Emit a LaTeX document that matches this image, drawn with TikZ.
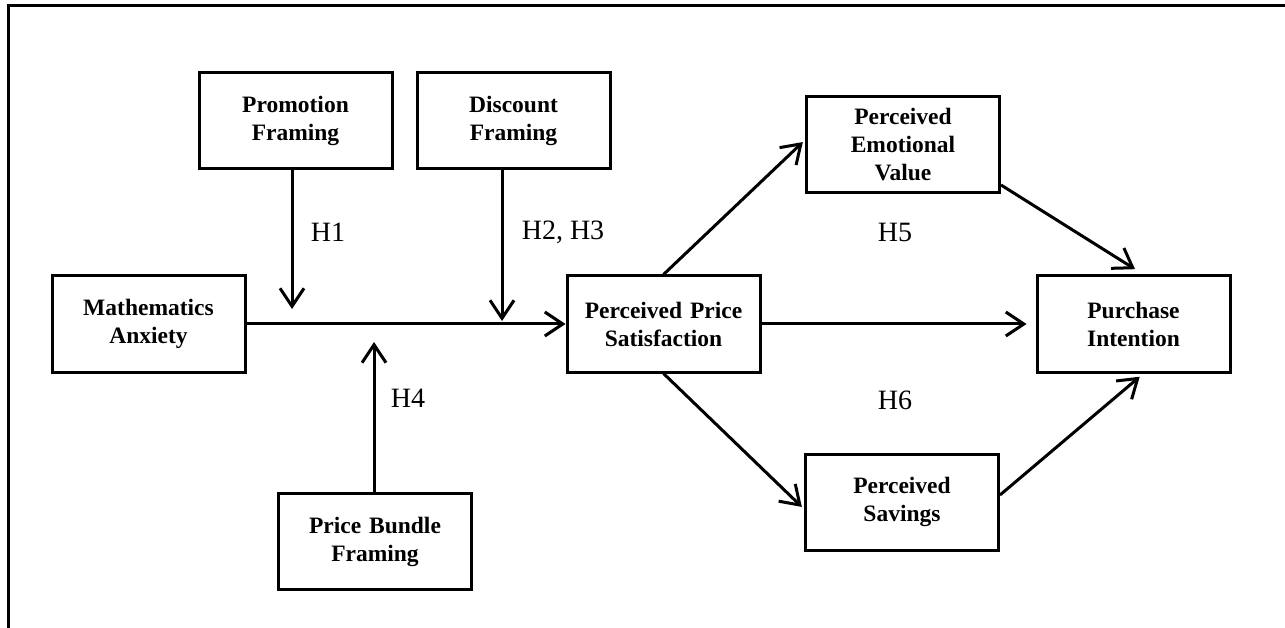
\documentclass[tikz,border=0pt]{standalone}
\usepackage{fontspec}
\setmainfont{Liberation Serif}
\usetikzlibrary{arrows.meta,calc}
\tikzset{
  box/.style={draw, line width=3pt, minimum width=193pt, minimum height=96pt, text width=185pt, align=center, inner sep=0pt,
    font=\fontsize{23.5}{28}\selectfont\bfseries},
  arr/.style={line width=3pt, -{Straight Barb[length=18pt,width=24pt,line width=3pt]}},
  lbl/.style={font=\fontsize{28}{32}\selectfont, inner sep=0pt},
  frame/.style={line width=3pt}
}
\begin{document}
\begin{tikzpicture}[x=1pt,y=-1pt]
\useasboundingbox (0,0) rectangle (1285,628);
\coordinate (fa) at (8,628);
\coordinate (fb) at (8,6);
\coordinate (fc) at (1285,6);
\draw[frame] (fa) -- (fb) -- (fc);

\node[box] (MA) at (148.5,324) {Mathematics\\Anxiety};
\node[box] (PF) at (295.5,120.5) {Promotion\\Framing};
\node[box] (DF) at (513.5,120.5) {Discount\\Framing};
\node[box] (PB) at (375,541.5) {Price Bundle\\Framing};
\node[box] (PPS) at (663.5,324) {Perceived Price\\Satisfaction};
\node[box] (PEV) at (903,145) {Perceived\\Emotional\\Value};
\node[box] (PS) at (902,502) {Perceived\\Savings};
\node[box] (PI) at (1133.5,324) {Purchase\\Intention};

\coordinate (t1) at (292,309);
\coordinate (t2) at (502,321);
\coordinate (t4) at (374,342);

\draw[arr] (MA.east) -- (PPS.west);
\draw[arr] (PF.south -| t1) -- (t1);
\draw[arr] (DF.south -| t2) -- (t2);
\draw[arr] (PB.north -| t4) -- (t4);

\draw[arr, shorten >=3pt] (PPS.north) -- ([yshift=5pt]PEV.west);
\draw[arr, shorten >=3pt] (PPS.south) -- ([yshift=-7pt]PS.west);
\draw[arr, shorten >=9pt] (PPS.east) -- (PI.west);
\draw[arr, shorten >=10pt] ([yshift=-40pt]PEV.east) -- ([xshift=10pt]PI.north);
\draw[arr, shorten >=5pt] ([yshift=7pt]PS.east) -- ([xshift=10pt]PI.south);

\node[lbl] (h1) at (328,232) {H1};
\node[lbl] (h23) at (563,232) {H2, H3};
\node[lbl] (h4) at (408,398) {H4};
\node[lbl] (h5) at (895,232) {H5};
\node[lbl] (h6) at (895,400) {H6};
\end{tikzpicture}
\end{document}
